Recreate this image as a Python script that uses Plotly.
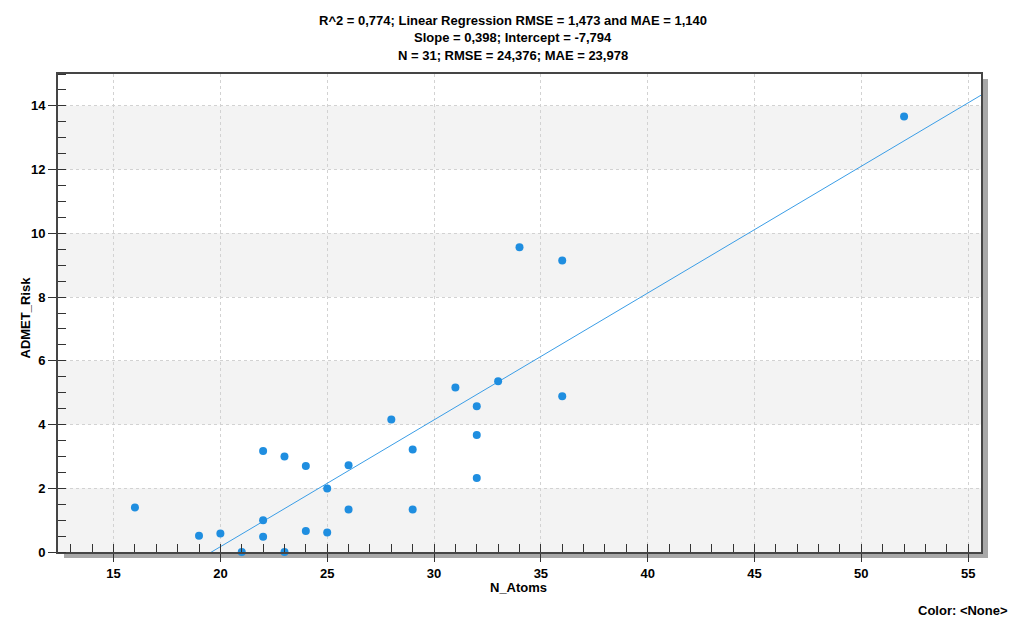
import plotly.graph_objects as go

# Data
n_atoms = [16, 19, 20, 21, 22, 22, 22, 23, 23, 24, 24, 25, 25, 26, 26,
           28, 29, 29, 31, 32, 32, 32, 33, 34, 36, 36, 52]
admet_risk = [1.40, 0.51, 0.58, 0.0, 3.17, 1.0, 0.48, 3.0, 0.0, 2.70, 0.66,
              1.99, 0.61, 2.72, 1.33, 4.16, 3.22, 1.33, 5.16, 4.57, 3.67,
              2.32, 5.36, 9.56, 9.15, 4.89, 13.67]
slope = 0.398
intercept = -7.794
title_lines = [
    "R^2 = 0,774; Linear Regression RMSE = 1,473 and MAE = 1,140",
    "Slope = 0,398; Intercept = -7,794",
    "N = 31; RMSE = 24,376; MAE = 23,978",
]
x_range = [12.4, 55.6]
y_range = [0, 15]

W, H = 1011, 617
L, R, T, B = 58, 981, 74, 552  # plot area in pixels


def px_x(p):
    return (p - L) / (R - L)


def px_y(p):
    return (B - p) / (B - T)


font = "Liberation Sans, Arial, sans-serif"
fig = go.Figure()

# regression line
fig.add_trace(go.Scatter(
    x=x_range,
    y=[slope * v + intercept for v in x_range],
    mode="lines",
    line=dict(color="#3a9de6", width=1),
    hoverinfo="skip",
))
# data points
fig.add_trace(go.Scatter(
    x=n_atoms, y=admet_risk, mode="markers",
    marker=dict(size=8, color="#1f8ee0"),
    cliponaxis=False,
))

shapes = []
# alternating bands
for y0 in range(0, 15, 4):
    shapes.append(dict(type="rect", xref="paper", yref="y", x0=0, x1=1,
                       y0=y0, y1=min(y0 + 2, 15), fillcolor="#f3f3f3",
                       line=dict(width=0), layer="below"))
# drop shadow
shapes.append(dict(type="rect", xref="paper", yref="paper",
                   x0=px_x(982), x1=px_x(988), y0=px_y(558), y1=px_y(79),
                   fillcolor="#a8a8a8", line=dict(width=0), layer="below"))
shapes.append(dict(type="rect", xref="paper", yref="paper",
                   x0=px_x(64), x1=px_x(988), y0=px_y(558), y1=px_y(553),
                   fillcolor="#a8a8a8", line=dict(width=0), layer="below"))

annotations = []
for i, line in enumerate(title_lines):
    annotations.append(dict(text="<b>" + line + "</b>", xref="paper",
                            yref="paper", x=px_x(513), y=px_y(20 + 18 * i),
                            showarrow=False, xanchor="center",
                            yanchor="middle",
                            font=dict(size=13, color="#000", family=font)))
annotations.append(dict(text="<b>N_Atoms</b>", xref="paper", yref="paper",
                        x=px_x(518), y=px_y(587), showarrow=False,
                        yanchor="middle",
                        font=dict(size=13, color="#000", family=font)))
annotations.append(dict(text="<b>ADMET_Risk</b>", xref="paper",
                        yref="paper", x=px_x(15), y=px_y(318),
                        showarrow=False, textangle=-90,
                        font=dict(size=13, color="#000", family=font)))
annotations.append(dict(text="<b>Color: &lt;None&gt;</b>",
                        xref="paper", yref="paper", x=px_x(1010),
                        y=px_y(610), showarrow=False, xanchor="right",
                        yanchor="middle",
                        font=dict(size=13, color="#000", family=font)))

axis_style = dict(
    ticks="outside", ticklen=8, tickcolor="#333",
    showgrid=True, gridcolor="#d2d2d2", griddash="3px,3px", gridwidth=1,
    zeroline=False, showline=True, linecolor="#454545", linewidth=2,
    mirror=True,
    tickfont=dict(size=13, color="#000", family=font, weight="bold"),
)
fig.update_xaxes(
    range=x_range, tick0=0, dtick=5,
    minor=dict(dtick=1, tick0=0, ticks="inside", ticklen=8,
               tickcolor="#333", showgrid=False),
    **axis_style,
)
fig.update_yaxes(
    range=y_range, tick0=0, dtick=2,
    minor=dict(dtick=0.5, tick0=0, ticks="inside", ticklen=8,
               tickcolor="#333", showgrid=False),
    **axis_style,
)
fig.update_layout(
    width=W, height=H,
    margin=dict(l=L, r=W - R, t=T, b=H - B),
    paper_bgcolor="#ffffff", plot_bgcolor="#ffffff",
    showlegend=False,
    shapes=shapes, annotations=annotations,
    font=dict(family=font),
)
fig.write_html("out.html", config={"displayModeBar": False},
               post_script="document.body.style.margin='0';")
